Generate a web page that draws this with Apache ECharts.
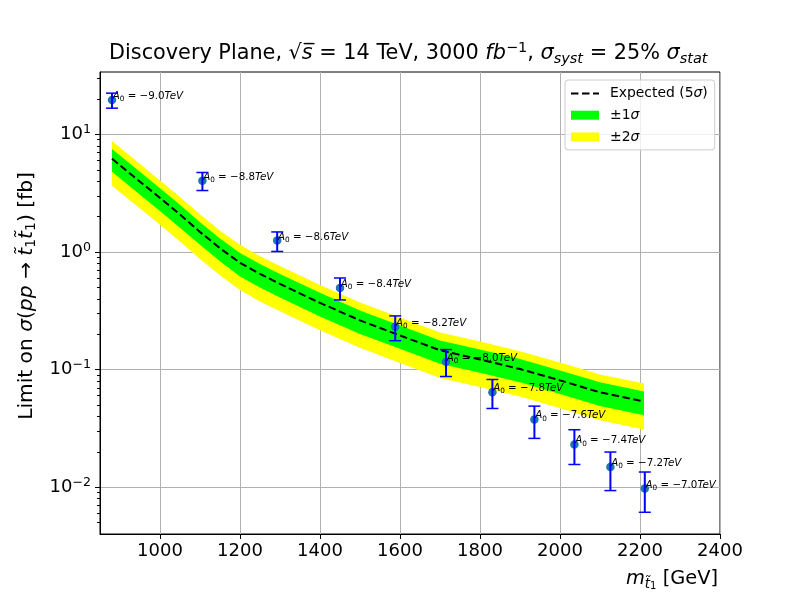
<!DOCTYPE html>
<html lang="en">
<head>
<meta charset="UTF-8">
<title>Discovery Plane</title>
<script src="https://cdn.jsdelivr.net/npm/echarts@6/dist/echarts.min.js"></script>
<style>
  html, body { margin: 0; padding: 0; background: #ffffff; }
  #chart { width: 800px; height: 600px; }
</style>
</head>
<body>
<div id="chart"></div>
<script>
// expected 5 sigma limit and bands [fb]
var massGrid = [880, 950, 1000, 1050, 1100, 1150, 1200, 1250, 1300, 1400, 1500, 1600, 1700, 1800, 1900, 2000, 2100, 2210];
var expected = [6.2, 3.96, 2.88, 2.08, 1.48, 1.075, 0.81, 0.65, 0.535, 0.369, 0.262, 0.195, 0.146, 0.122, 0.101, 0.081, 0.064, 0.0535];
var plus1 = [7.5, 4.8, 3.49, 2.52, 1.79, 1.3, 0.98, 0.79, 0.65, 0.45, 0.318, 0.237, 0.177, 0.148, 0.123, 0.098, 0.078, 0.065];
var minus1 = [4.8, 3.07, 2.23, 1.61, 1.15, 0.833, 0.62, 0.5, 0.41, 0.283, 0.201, 0.15, 0.112, 0.094, 0.078, 0.062, 0.049, 0.041];
var plus2 = [8.8, 5.6, 4.06, 2.93, 2.09, 1.515, 1.15, 0.92, 0.76, 0.525, 0.372, 0.277, 0.207, 0.173, 0.143, 0.115, 0.091, 0.076];
var minus2 = [3.65, 2.34, 1.7, 1.23, 0.873, 0.634, 0.475, 0.38, 0.313, 0.216, 0.153, 0.114, 0.085, 0.071, 0.059, 0.047, 0.037, 0.031];

// signal points with error bars
var sigMass = [880, 1106, 1293, 1450, 1588, 1715, 1831, 1936, 2036, 2126, 2212];
var sigXsec = [19.6, 4.03, 1.25, 0.495, 0.231, 0.1165, 0.0643, 0.0377, 0.0231, 0.01485, 0.00973];
var sigLow = [16.7, 3.33, 1.01, 0.391, 0.176, 0.0873, 0.0467, 0.026, 0.0156, 0.00936, 0.00612];
var sigHigh = [22.4, 4.74, 1.48, 0.601, 0.286, 0.148, 0.0824, 0.0489, 0.0308, 0.0199, 0.01346];
var a0 = [-9.0, -8.8, -8.6, -8.4, -8.2, -8.0, -7.8, -7.6, -7.4, -7.2, -7.0];

// ticks
var xTicks = [1000, 1200, 1400, 1600, 1800, 2000, 2200, 2400];
var yTicks = [0.01, 0.1, 1, 10];
var yMinorTicks = [0.005, 0.006, 0.007, 0.008, 0.009,
                   0.02, 0.03, 0.04, 0.05, 0.06, 0.07, 0.08, 0.09,
                   0.2, 0.3, 0.4, 0.5, 0.6, 0.7, 0.8, 0.9,
                   2, 3, 4, 5, 6, 7, 8, 9, 20, 30];

var FONT = 'DejaVu Sans';

var chart = echarts.init(document.getElementById('chart'));

function band(name, color, upper, lower) {
    return {
        name: name,
        type: 'custom',
        silent: true,
        z: 1,
        itemStyle: { color: color },
        data: [[massGrid[0], upper[0]]],
        renderItem: function (params, api) {
            var pts = [];
            for (var i = 0; i < massGrid.length; i++) {
                pts.push(api.coord([massGrid[i], upper[i]]));
            }
            for (var j = massGrid.length - 1; j >= 0; j--) {
                pts.push(api.coord([massGrid[j], lower[j]]));
            }
            return { type: 'polygon', shape: { points: pts }, style: { fill: color } };
        }
    };
}

var lineData = massGrid.map(function (m, i) { return [m, expected[i]]; });
var pointData = sigMass.map(function (m, i) { return [m, sigXsec[i], a0[i]]; });
var errData = sigMass.map(function (m, i) { return [m, sigLow[i], sigHigh[i]]; });

chart.setOption({
    animation: false,
    backgroundColor: '#ffffff',
    title: [{
        text: 'Discovery Plane, √{i|s\u0305} = 14 TeV, 3000 {i|fb}{sup|−1}, {i|σ}{sub|syst} = 25% {i|σ}{sub|stat}',
        left: 109,
        top: 41,
        padding: 0,
        textStyle: {
            fontFamily: FONT, fontSize: 20.8, fontWeight: 'normal', color: '#000', lineHeight: 26,
            rich: {
                i: { fontFamily: FONT, fontSize: 20.8, fontStyle: 'italic', lineHeight: 26 },
                sup: { fontFamily: FONT, fontSize: 14.5, verticalAlign: 'top', lineHeight: 14 },
                sub: { fontFamily: FONT, fontSize: 14.5, fontStyle: 'italic', verticalAlign: 'bottom', lineHeight: 14 }
            }
        }
    }, {
        // x axis label, right aligned to the plot edge
        text: '{i|m}{subi|t\u0303}{subsub|1} [GeV]',
        right: 82,
        top: 567,
        padding: 0,
        textStyle: {
            fontFamily: FONT, fontSize: 19.4, fontWeight: 'normal', color: '#000', lineHeight: 24,
            rich: {
                i: { fontFamily: FONT, fontSize: 19.4, fontStyle: 'italic', lineHeight: 24 },
                subi: { fontFamily: FONT, fontSize: 13.6, fontStyle: 'italic', verticalAlign: 'bottom', lineHeight: 14 },
                subsub: { fontFamily: FONT, fontSize: 10, verticalAlign: 'bottom', lineHeight: 9 }
            }
        }
    }],
    legend: {
        orient: 'vertical',
        left: 565,
        top: 80,
        padding: [6.5, 7, 6, 5],
        itemGap: 7.7,
        itemWidth: 28,
        itemHeight: 9,
        itemStyle: { borderWidth: 0 },
        backgroundColor: 'rgba(255,255,255,0.8)',
        borderColor: '#cccccc',
        borderWidth: 1,
        borderRadius: 3,
        data: [
            { name: 'Expected (5σ)', itemStyle: { opacity: 0 } },
            { name: '±1σ', icon: 'rect' },
            { name: '±2σ', icon: 'rect' }
        ],
        formatter: function (name) { return name.replace('σ', '{i|σ}'); },
        textStyle: {
            fontFamily: FONT, fontSize: 13.9, color: '#000', lineHeight: 14,
            padding: [0, 0, 0, 6],
            rich: { i: { fontFamily: FONT, fontSize: 13.9, fontStyle: 'italic', lineHeight: 14 } }
        }
    },
    grid: {
        left: 100, right: 80, top: 72, bottom: 66,
        outerBoundsMode: 'none',
        containLabel: false,
        show: true, borderColor: '#000', borderWidth: 1
    },
    xAxis: {
        type: 'value',
        min: 850,
        max: 2400,
        splitNumber: 8,
        axisLine: { show: true, lineStyle: { color: '#000', width: 1 } },
        axisTick: { customValues: xTicks, length: 5, lineStyle: { color: '#000', width: 1 } },
        axisLabel: {
            customValues: xTicks, fontFamily: FONT, fontSize: 18, color: '#000', margin: 8,
            formatter: function (v) { return String(v); }
        },
        splitLine: { show: true, lineStyle: { color: '#b0b0b0', width: 1 } }
    },
    yAxis: [{
        type: 'log',
        logBase: 10,
        min: 0.004,
        max: 33.9,
        name: 'Limit on {i|σ}({i|pp} → {i|t\u0303}{sub|1}{i|t\u0303}{sub|1}) [fb]',
        nameLocation: 'middle',
        nameGap: 60,
        nameTextStyle: {
            fontFamily: FONT, fontSize: 20.2, color: '#000', lineHeight: 24,
            padding: [0, 0, 0, 14],
            rich: {
                i: { fontFamily: FONT, fontSize: 20.2, fontStyle: 'italic', lineHeight: 24 },
                sub: { fontFamily: FONT, fontSize: 14, verticalAlign: 'bottom', lineHeight: 14 }
            }
        },
        axisLine: { show: true, lineStyle: { color: '#000', width: 1 } },
        axisTick: { customValues: yTicks, length: 5, lineStyle: { color: '#000', width: 1 } },
        axisLabel: {
            customValues: yTicks,
            fontFamily: FONT, fontSize: 18, color: '#000', margin: 9, lineHeight: 22,
            formatter: function (v) {
                var e = Math.round(Math.log10(v));
                return '10{sup|' + (e < 0 ? '−' + (-e) : e) + '}';
            },
            rich: { sup: { fontFamily: FONT, fontSize: 12.6, verticalAlign: 'top', lineHeight: 12 } }
        },
        splitLine: { show: true, lineStyle: { color: '#b0b0b0', width: 1 } }
    }, {
        // minor ticks only
        type: 'log',
        logBase: 10,
        min: 0.004,
        max: 33.9,
        position: 'left',
        axisLine: { show: false },
        axisLabel: { show: false },
        splitLine: { show: false },
        axisTick: { customValues: yMinorTicks, length: 3, lineStyle: { color: '#000', width: 1 } }
    }],
    series: [
        band('±2σ', '#ffff00', plus2, minus2),
        band('±1σ', '#00ff00', plus1, minus1),
        {
            name: 'Expected (5σ)',
            type: 'line',
            data: lineData,
            symbol: 'none',
            z: 3,
            itemStyle: { color: '#000' },
            lineStyle: { color: '#000', width: 2, type: [7.5, 3.5] }
        },
        {
            name: 'points',
            type: 'scatter',
            data: pointData,
            symbolSize: 8.5,
            z: 4,
            itemStyle: { color: '#1f77b4', opacity: 1 },
            label: {
                show: true,
                position: [5, 7],
                align: 'left',
                verticalAlign: 'bottom',
                fontFamily: FONT, fontSize: 10.3, color: '#000', lineHeight: 13,
                formatter: function (p) {
                    var v = p.value[2].toFixed(1).replace('-', '−');
                    return '{i|A}{s|0} = ' + v + '{i|TeV}';
                },
                rich: {
                    i: { fontFamily: FONT, fontSize: 10.3, fontStyle: 'italic', lineHeight: 13 },
                    s: { fontFamily: FONT, fontSize: 7.3, verticalAlign: 'bottom', lineHeight: 8 }
                }
            }
        },
        {
            name: 'errors',
            type: 'custom',
            silent: true,
            z: 5,
            data: errData,
            encode: { x: 0, y: [1, 2] },
            renderItem: function (params, api) {
                var lo = api.coord([api.value(0), api.value(1)]);
                var hi = api.coord([api.value(0), api.value(2)]);
                var w = 6;
                var st = { stroke: '#0000ff', lineWidth: 2 };
                return {
                    type: 'group',
                    children: [
                        { type: 'line', shape: { x1: lo[0], y1: lo[1], x2: hi[0], y2: hi[1] }, style: st },
                        { type: 'line', shape: { x1: lo[0] - w, y1: lo[1], x2: lo[0] + w, y2: lo[1] }, style: { stroke: '#0000ff', lineWidth: 1.5 } },
                        { type: 'line', shape: { x1: hi[0] - w, y1: hi[1], x2: hi[0] + w, y2: hi[1] }, style: { stroke: '#0000ff', lineWidth: 1.5 } }
                    ]
                };
            }
        }
    ]
});
window.addEventListener('resize', function () { chart.resize(); });
</script>
</body>
</html>
